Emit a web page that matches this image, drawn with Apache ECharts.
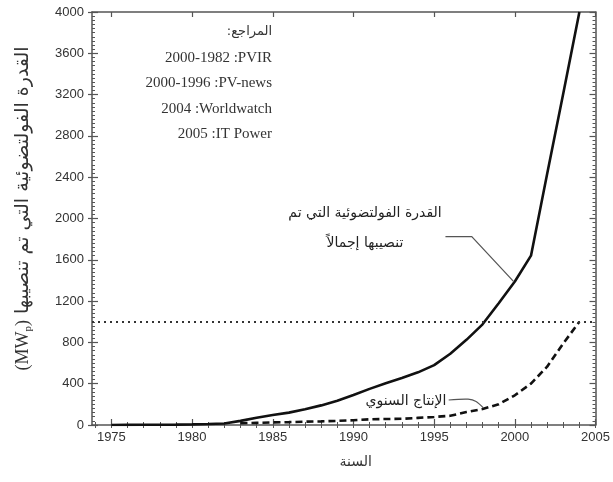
<!DOCTYPE html>
<html>
<head>
<meta charset="utf-8">
<script src="https://cdn.jsdelivr.net/npm/echarts@6/dist/echarts.min.js"></script>
<style>html,body{margin:0;padding:0;background:#fff}#c{width:613px;height:482px}</style>
</head>
<body>
<div id="c"></div>
<script>
// ---- data ----
const installedYears = [1975,1976,1977,1978,1979,1980,1981,1982,1983,1984,1985,1986,1987,1988,1989,1990,1991,1992,1993,1994,1995,1996,1997,1998,1999,2000,2001,2002,2003,2004];
const installedMW = [0,1,2,3,4,6,9,15,40,70,97,120,152,190,235,290,350,405,455,510,580,690,825,975,1180,1390,1640,2430,3210,4000];
const productionYears = [1983,1984,1985,1986,1987,1988,1989,1990,1991,1992,1993,1994,1995,1996,1997,1998,1999,2000,2001,2002,2003,2004];
const productionMW = [17,21,25,28,32,35,40,46,55,58,60,69,78,89,126,155,201,288,401,565,790,1000];
const referenceLevel = 1000;
const xTickLabels = [1975,1980,1985,1990,1995,2000,2005];
const xMinorTicks = [1974,1975,1976,1977,1978,1979,1980,1981,1982,1983,1984,1985,1986,1987,1988,1989,1990,1991,1992,1993,1994,1995,1996,1997,1998,1999,2000,2001,2002,2003,2004,2005];
const yTickLabels = [0,400,800,1200,1600,2000,2400,2800,3200,3600,4000];
const referencesText = ['المراجع:\u200F','2000-1982 :PVIR','2000-1996 :PV-news','2004 :Worldwatch','2005 :IT Power'];
const installedLabel = ['القدرة الفولتضوئية التي تم','تنصيبها إجمالاً'];
const productionLabel = 'الإنتاج السنوي';
const xTitle = 'السنة';
const yTitle = '{lat|(MW}{sub|p}{lat|)} القدرة الفولتضوئية التي تم تنصيبها';
// annotation leader anchor points (data coords)
const installedLeader = [[1995.7,1824],[1997.33,1824],[1999.93,1388]];
const productionLeader = [[1995.9,242],[1997.1,250],[1997.6,228],[1998.05,165]];

const X_MIN = 1973.8, X_MAX = 2005;
const installedData = installedYears.map((y,i)=>[y, installedMW[i]]);
const productionData = productionYears.map((y,i)=>[y, productionMW[i]]);

const axisColor = '#555';
const labelFont = 'Liberation Sans';
const arabicFont = 'DejaVu Sans';

const chart = echarts.init(document.getElementById('c'), null, {renderer:'canvas'});

function baseX(extra){
  return Object.assign({
    type:'value', min:X_MIN, max:X_MAX, splitLine:{show:false},
    axisLine:{show:false}, axisLabel:{show:false}, axisTick:{show:false}
  }, extra);
}
function baseY(extra){
  return Object.assign({
    type:'value', min:0, max:4000, interval:400, splitLine:{show:false},
    axisLine:{show:false}, axisLabel:{show:false}, axisTick:{show:false}
  }, extra);
}

chart.setOption({
  animation:false,
  backgroundColor:'#fff',
  grid:{left:92,right:16,top:12,bottom:57,containLabel:false},
  xAxis:[
    baseX({position:'bottom',
      axisLine:{show:true,onZero:false,lineStyle:{color:axisColor,width:1.5}},
      axisTick:{show:true,inside:true,length:6,customValues:xTickLabels,lineStyle:{color:axisColor,width:1.2}},
      axisLabel:{show:true,customValues:xTickLabels,margin:6,fontFamily:labelFont,fontSize:13,color:'#333',formatter:v=>String(v)},
      name:xTitle,nameLocation:'middle',nameGap:30,
      nameTextStyle:{fontFamily:arabicFont,fontSize:14,color:'#333',padding:[0,0,0,24]}
    }),
    baseX({position:'bottom',
      axisTick:{show:true,inside:true,length:3,customValues:xMinorTicks,lineStyle:{color:axisColor,width:1}}
    }),
    baseX({position:'top',
      axisLine:{show:true,onZero:false,lineStyle:{color:axisColor,width:1.5}},
      axisTick:{show:true,inside:true,length:5,customValues:xTickLabels,lineStyle:{color:axisColor,width:1.2}}
    }),
    baseX({position:'top',
      axisTick:{show:true,inside:true,length:3,customValues:xMinorTicks,lineStyle:{color:axisColor,width:1}}
    })
  ],
  yAxis:[
    baseY({position:'left',
      axisLine:{show:true,onZero:false,lineStyle:{color:axisColor,width:1.5}},
      axisTick:{show:true,inside:true,length:6,lineStyle:{color:axisColor,width:1.2}},
      minorTick:{show:true,splitNumber:10,length:3,lineStyle:{color:axisColor,width:1}},
      axisLabel:{show:true,margin:8,fontFamily:labelFont,fontSize:13,color:'#333',
        customValues:yTickLabels,formatter:v=>String(v)},
      name:yTitle,nameLocation:'middle',nameGap:58,nameRotate:90,
      nameTextStyle:{fontFamily:arabicFont,fontSize:19,color:'#333',padding:[0,0,0,20],
        rich:{
          lat:{fontFamily:'Liberation Serif',fontSize:18,color:'#333'},
          sub:{fontFamily:'Liberation Serif',fontSize:11,color:'#333',padding:[10,0,0,0]}
        }}
    }),
    baseY({position:'right',
      axisLine:{show:true,onZero:false,lineStyle:{color:axisColor,width:1.5}},
      axisTick:{show:true,inside:true,length:6,lineStyle:{color:axisColor,width:1.2}},
      minorTick:{show:true,splitNumber:10,length:3,lineStyle:{color:axisColor,width:1}}
    }),
    baseY({position:'left',
      axisTick:{show:true,inside:false,length:4,lineStyle:{color:axisColor,width:1.2}}
    })
  ],
  series:[
    {type:'line',name:'installed',data:installedData,xAxisIndex:0,yAxisIndex:0,showSymbol:false,
      lineStyle:{color:'#111',width:2.6},
      markLine:{silent:true,symbol:'none',label:{show:false},
        lineStyle:{color:'#333',width:2,type:[2,4]},
        data:[{yAxis:referenceLevel}]}
    },
    {type:'line',name:'production',data:productionData,xAxisIndex:0,yAxisIndex:0,showSymbol:false,
      lineStyle:{color:'#111',width:2.6,type:[7,4]}}
  ]
});

const toPx = p => chart.convertToPixel({xAxisIndex:0,yAxisIndex:0}, p);
const graphics = [];
referencesText.forEach((t,i)=>{
  graphics.push({type:'text',x:272,y:32+i*25.6,
    style:{text:t,align:'right',verticalAlign:'middle',
      fontFamily:i===0?arabicFont:'Liberation Serif',fontSize:i===0?13:15,fill:'#333'}});
});
graphics.push({type:'rect',shape:{x:290,y:196,width:152,height:60},style:{fill:'#fff'},z:5});
installedLabel.forEach((t,i)=>{
  graphics.push({type:'text',x:365,y:213+i*30,z:10,
    style:{text:t,align:'center',verticalAlign:'middle',fontFamily:arabicFont,fontSize:14,fill:'#222'}});
});
graphics.push({type:'text',x:406,y:401,z:10,
  style:{text:productionLabel,align:'center',verticalAlign:'middle',fontFamily:arabicFont,fontSize:14,fill:'#222'}});
graphics.push({type:'polyline',z:10,shape:{points:installedLeader.map(toPx)},style:{stroke:'#555',lineWidth:1.2,fill:null}});
graphics.push({type:'polyline',z:10,shape:{points:productionLeader.map(toPx),smooth:0.3},style:{stroke:'#555',lineWidth:1.2,fill:null}});
chart.setOption({graphic:graphics});
</script>
</body>
</html>
